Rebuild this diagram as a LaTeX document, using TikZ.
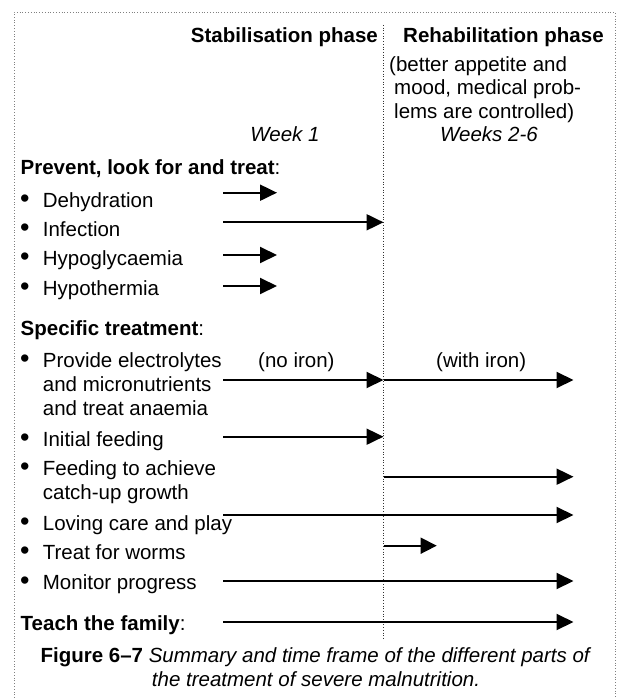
\documentclass[tikz,border=0pt]{standalone}
\usepackage{fontspec}
\setmainfont{Liberation Sans}
\usetikzlibrary{arrows.meta}
\tikzset{
  txt/.style={anchor=base west, inner sep=0pt, font=\fontsize{20.5}{24}\selectfont},
  txtc/.style={anchor=base, inner sep=0pt, font=\fontsize{20.5}{24}\selectfont},
  bul/.style={anchor=base west, inner sep=0pt, font=\fontsize{27}{24}\selectfont},
  arr/.style={line width=2pt, -{Triangle[length=17pt,width=16pt]}},
  arrthin/.style={line width=1.6pt, -{Triangle[length=16pt,width=16pt]}},
  frame/.style={line width=0.8pt, gray, dotted},
  divider/.style={line width=0.7pt, black!80, dotted}
}
\begin{document}
\begin{tikzpicture}[x=1pt,y=-1pt]
\useasboundingbox (0,0) rectangle (616,698);
% frame
\draw[frame] (14,698) -- (14,12) -- (615,12) -- (615,698);
% divider
\coordinate (dtop) at (383.5,25);
\coordinate (dbot) at (383.5,640);
\draw[divider] (dtop) -- (dbot);
% header
\node[txt, anchor=base east, font=\fontsize{20.5}{24}\selectfont\bfseries] (stab) at (378,43) {Stabilisation phase};
\node[txt, font=\fontsize{20.5}{24}\selectfont\bfseries] (rehab) at (403,43) {Rehabilitation phase};
\node[txt] (r1) at (389,72) {(better appetite and};
\node[txt] (r2) at (394,95) {mood, medical prob-};
\node[txt] (r3) at (394,118) {lems are controlled)};
\node[txtc, font=\fontsize{20.5}{24}\selectfont\itshape] (wk1) at (285,141) {Week 1};
\node[txtc, font=\fontsize{20.5}{24}\selectfont\itshape] (wk26) at (489,141) {Weeks 2-6};
% section 1
\node[txt] (h1) at (20.5,174) {\textbf{Prevent, look for and treat}:};
\foreach \n/\y/\t in {b1/207.3/Dehydration, b2/236.7/Infection, b3/265.7/Hypoglycaemia, b4/295.7/Hypothermia}{
  \node[bul] (\n d) at (20,\y) {•};
  \node[txt] (\n) at (42.7,\y) {\t};
}
% section 2
\node[txt] (h2) at (20.5,335.7) {\textbf{Specific treatment}:};
\node[bul] (b5d) at (20,367.3) {•};
\node[txt] (b5a) at (42.7,367.3) {Provide electrolytes};
\node[txt] (b5b) at (42.7,391.5) {and micronutrients};
\node[txt] (b5c) at (42.7,415.7) {and treat anaemia};
\node[txt] (noiron) at (258,367.3) {(no iron)};
\node[txt] (withiron) at (436,367.3) {(with iron)};
\node[bul] (b6d) at (20,446.7) {•};
\node[txt] (b6) at (42.7,446.7) {Initial feeding};
\node[bul] (b7d) at (20,475) {•};
\node[txt] (b7a) at (42.7,475) {Feeding to achieve};
\node[txt] (b7b) at (42.7,499.3) {catch-up growth};
\node[bul] (b8d) at (20,530.7) {•};
\node[txt] (b8) at (42.7,530.7) {Loving care and play};
\node[bul] (b9d) at (20,559) {•};
\node[txt] (b9) at (42.7,559) {Treat for worms};
\node[bul] (b10d) at (20,589) {•};
\node[txt] (b10) at (42.7,589) {Monitor progress};
% section 3
\node[txt] (h3) at (20.5,630) {\textbf{Teach the family}:};
% arrow coordinates
\coordinate (a1s) at (223,192.7);   \coordinate (a1e) at (277,192.7);
\coordinate (a2s) at (223,222.3);   \coordinate (a2e) at (383.5,222.3);
\coordinate (a3s) at (223,255);     \coordinate (a3e) at (277,255);
\coordinate (a4s) at (223,286);     \coordinate (a4e) at (277,286);
\coordinate (a5s) at (223,380);     \coordinate (a5e) at (383.5,380);
\coordinate (a5f) at (573.5,380);
\coordinate (a6s) at (223,436.7);   \coordinate (a6e) at (383.5,436.7);
\coordinate (a7s) at (383.5,476.7); \coordinate (a7e) at (573.5,476.7);
\coordinate (a8s) at (223,515);     \coordinate (a8e) at (573.5,515);
\coordinate (a9s) at (383.5,545.7); \coordinate (a9e) at (436.7,545.7);
\coordinate (a10s) at (223,581);    \coordinate (a10e) at (573.5,581);
\coordinate (a11s) at (223,622);    \coordinate (a11e) at (573.5,622);
\draw[arr] (a1s) -- (a1e);
\draw[arr] (a2s) -- (a2e);
\draw[arr] (a3s) -- (a3e);
\draw[arr] (a4s) -- (a4e);
\draw[arr] (a5s) -- (a5e);
\draw[arr] (a5e) -- (a5f);
\draw[arr] (a6s) -- (a6e);
\draw[arr] (a7s) -- (a7e);
\draw[arr] (a8s) -- (a8e);
\draw[arrthin] (a9s) -- (a9e);
\draw[arr] (a10s) -- (a10e);
\draw[arr] (a11s) -- (a11e);
% caption
\node[txtc] (cap1) at (316,662) {\textbf{Figure 6–7} \textit{Summary and time frame of the different parts of}};
\node[txtc] (cap2) at (316,686) {\textit{the treatment of severe malnutrition.}};
\end{tikzpicture}
\end{document}
